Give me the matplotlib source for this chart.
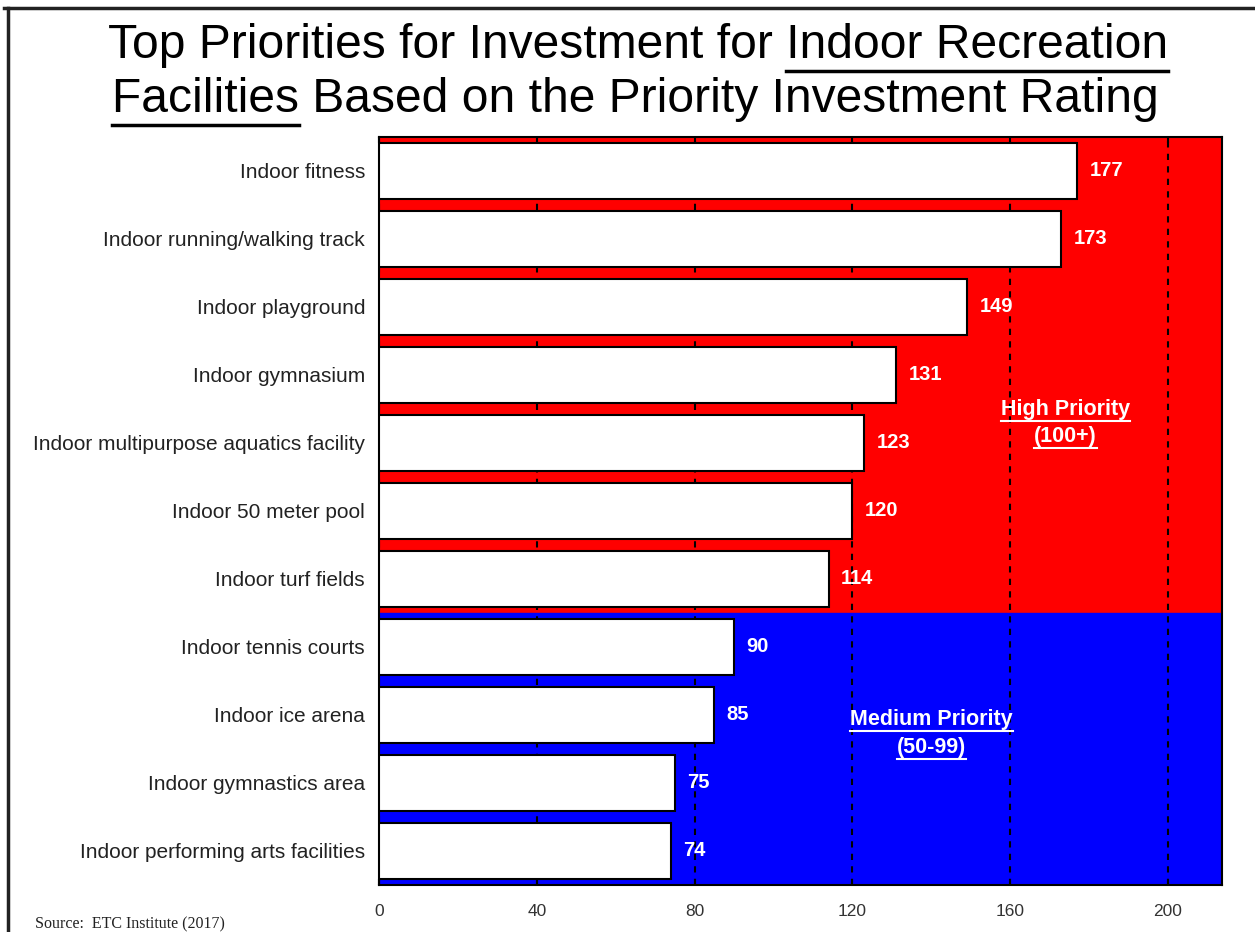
import matplotlib
matplotlib.use("Agg")
import matplotlib.pyplot as plt
from matplotlib import font_manager
from matplotlib.lines import Line2D

# ----------------------------------------------------------------------------
# Data
# ----------------------------------------------------------------------------
FACILITIES = [
    "Indoor fitness",
    "Indoor running/walking track",
    "Indoor playground",
    "Indoor gymnasium",
    "Indoor multipurpose aquatics facility",
    "Indoor 50 meter pool",
    "Indoor turf fields",
    "Indoor tennis courts",
    "Indoor ice arena",
    "Indoor gymnastics area",
    "Indoor performing arts facilities",
]
PIR_SCORES = [177, 173, 149, 131, 123, 120, 114, 90, 85, 75, 74]
X_TICKS = [0, 40, 80, 120, 160, 200]
N_HIGH = 7  # first seven rows fall in the high priority band

TITLE_1 = "Top Priorities for Investment for Indoor Recreation"
TITLE_1_UL = "Indoor Recreation"
TITLE_2 = "Facilities Based on the Priority Investment Rating"
TITLE_2_UL = "Facilities"
SOURCE = "Source:  ETC Institute (2017)"

RED = "#ff0000"
BLUE = "#0000ff"

W, H = 1255, 932
installed = {f.name for f in font_manager.fontManager.ttflist}
NARROW = "Liberation Sans Narrow" if "Liberation Sans Narrow" in installed else "Liberation Sans"
TITLE_SIZE = 40 if NARROW == "Liberation Sans Narrow" else 34.6

fig = plt.figure(figsize=(W / 100, H / 100), dpi=100)
ax = fig.add_axes([379 / W, 1 - 885 / H, (1222 - 379) / W, (885 - 137) / H])

ypos = list(range(len(FACILITIES)))
ax.axhspan(-0.5, N_HIGH - 0.5, color=RED, zorder=0)
ax.axhspan(N_HIGH - 0.5, len(FACILITIES) - 0.5, color=BLUE, zorder=0)
ax.barh(ypos, PIR_SCORES, height=0.82, color="white", edgecolor="black",
        linewidth=1.5, zorder=3)

for y, v in zip(ypos, PIR_SCORES):
    ax.annotate(str(v), (v, y), xytext=(9, 0), textcoords="offset points",
                ha="left", va="center", color="white", fontweight="bold",
                fontsize=14.5, family="Liberation Sans", zorder=5)

ax.set_xlim(0, 213.7)
ax.set_ylim(len(FACILITIES) - 0.5, -0.5)
ax.set_xticks(X_TICKS)
ax.set_yticks(ypos)
ax.set_yticklabels(FACILITIES, fontsize=15, family="Liberation Sans", color="#222222")
ax.set_xticklabels([str(t) for t in X_TICKS], fontsize=12.5,
                   family="Liberation Sans", color="#333333")
ax.tick_params(axis="x", direction="in", top=True, bottom=True, length=4,
               width=1.5, pad=14)
ax.tick_params(axis="y", length=0, pad=10)
ax.set_axisbelow(True)
ax.grid(axis="x", color="black", linestyle=(0, (3, 3)), linewidth=1.5, zorder=1)
for s in ax.spines.values():
    s.set_linewidth(1.5)
    s.set_color("black")

renderer = fig.canvas.get_renderer()


def underline(txt, sub=None, at_end=False, color="black", lw=2.0, gap=2):
    """Draw a line under a whole text or under its first/last substring."""
    bb = txt.get_window_extent(renderer)
    x0, x1 = bb.x0, bb.x1
    if sub is not None:
        probe = fig.text(0, 0, sub, fontproperties=txt.get_fontproperties())
        sw = probe.get_window_extent(renderer).width
        probe.remove()
        if at_end:
            x0 = x1 - sw
        else:
            x1 = x0 + sw
    y = bb.y0 - gap
    fig.add_artist(Line2D([x0 / W, x1 / W], [y / H, y / H], color=color,
                          linewidth=lw, transform=fig.transFigure))


# title, two lines, parts underlined
t1 = fig.text(638 / W, 1 - 45 / H, TITLE_1, ha="center", va="center",
              fontsize=TITLE_SIZE, family=NARROW)
t2 = fig.text(635 / W, 1 - 100 / H, TITLE_2, ha="center", va="center",
              fontsize=TITLE_SIZE, family=NARROW)
underline(t1, TITLE_1_UL, at_end=True, lw=2.5, gap=3)
underline(t2, TITLE_2_UL, at_end=False, lw=2.5, gap=2)

# priority band labels
for label, x, y in [("High Priority", 174, 3.5), ("(100+)", 174, 3.91),
                    ("Medium Priority", 140, 8.07), ("(50-99)", 140, 8.48)]:
    t = ax.text(x, y, label, ha="center", va="center", color="white",
                fontweight="bold", fontsize=15.5, family="Liberation Sans", zorder=6)
    underline(t, color="white", lw=1.5, gap=1)

fig.text(35 / W, 1 - 924 / H, SOURCE, ha="left", va="center", fontsize=11.5,
         family="Liberation Serif", color="#222222")

# outer frame (top and left edges visible in the crop)
fig.add_artist(Line2D([4 / W, 1], [1 - 8 / H, 1 - 8 / H], color="#222222",
                      linewidth=2.5, transform=fig.transFigure))
fig.add_artist(Line2D([8 / W, 8 / W], [0, 1 - 8 / H], color="#222222",
                      linewidth=2.5, transform=fig.transFigure))

fig.savefig("out.png", dpi=100)
